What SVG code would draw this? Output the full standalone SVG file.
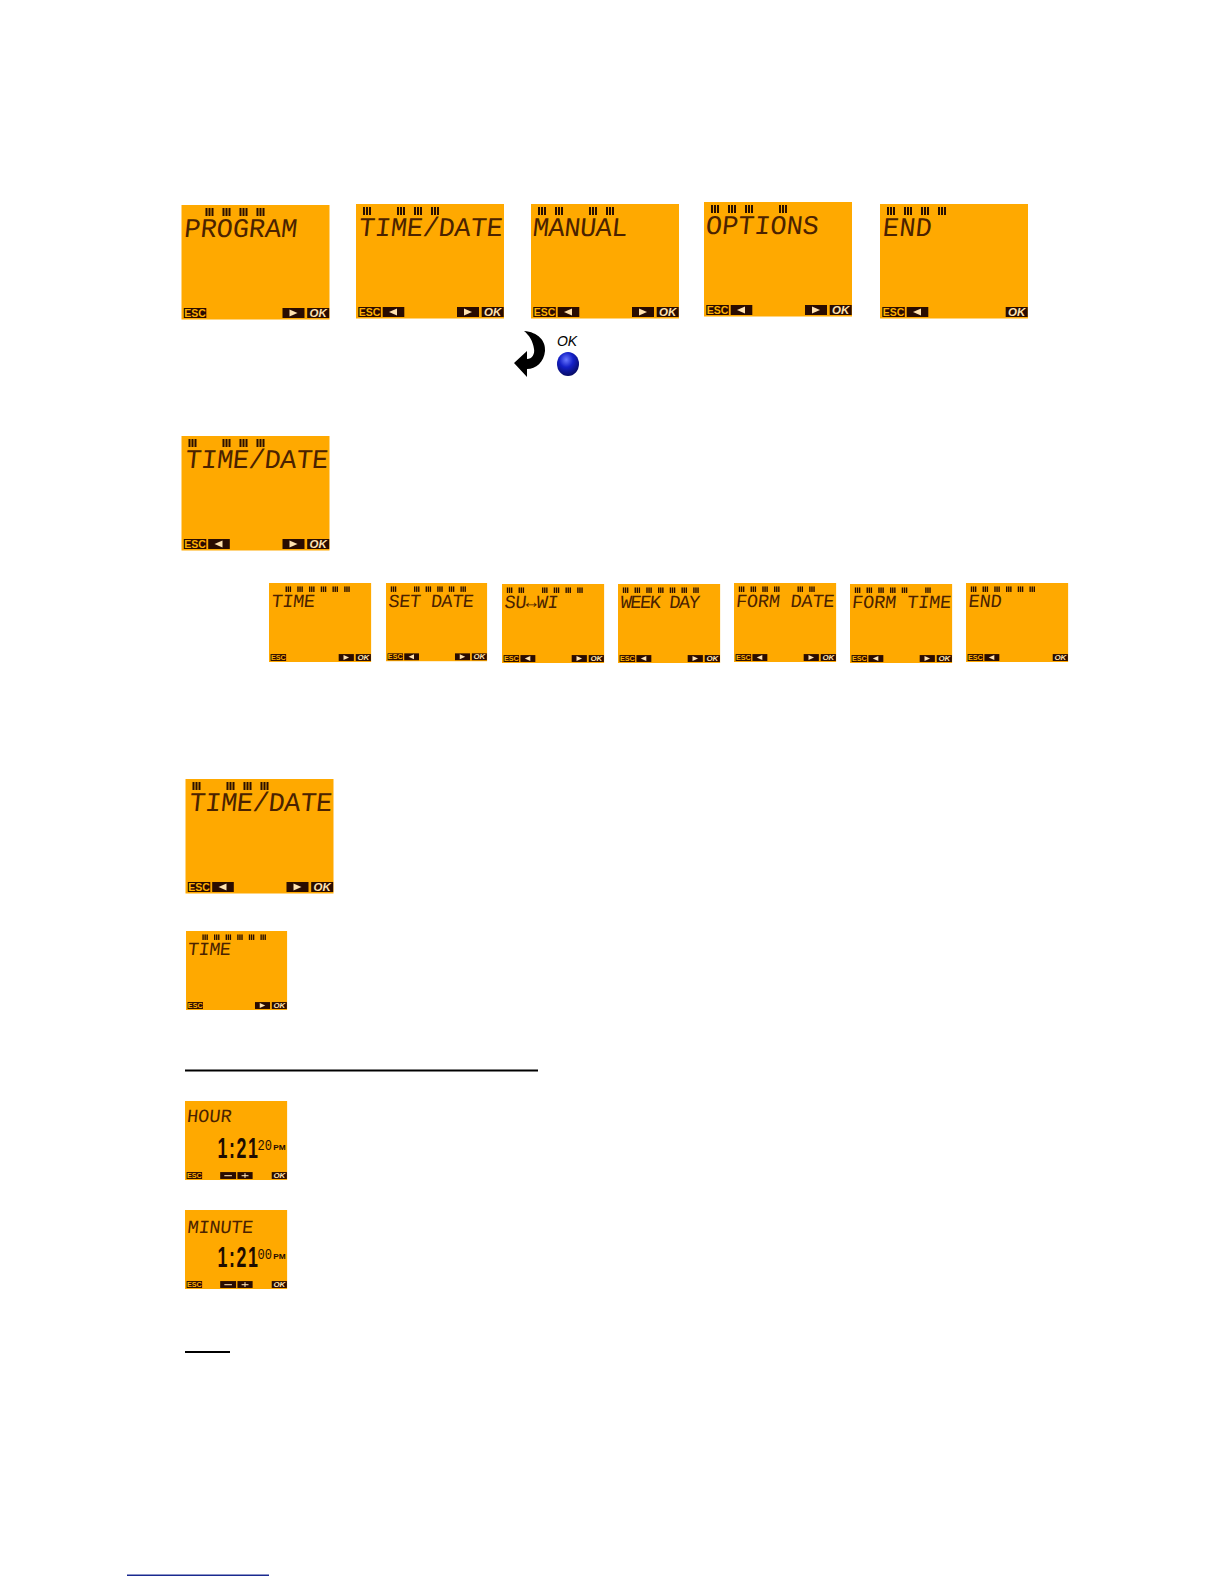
<svg xmlns="http://www.w3.org/2000/svg" width="1224" height="1584" viewBox="0 0 1224 1584">
<style>
.lcd{font-family:"Liberation Mono","DejaVu Sans Mono",monospace;font-weight:400;font-size:27px;fill:#4a2200}
.btn{font-family:"Liberation Sans",Arial,sans-serif;font-weight:700;font-style:italic;font-size:11.5px;text-anchor:middle}
.esc{fill:#ffb000;font-style:normal;font-size:10.5px}.okt{fill:#ffe2b0}
.dig{font-family:"Liberation Sans",Arial,sans-serif;font-weight:700;fill:#1e0c00}
.sec{font-family:"Liberation Mono",monospace;fill:#2a1000}
</style>
<defs>
<rect id="bg" width="148" height="114.5" fill="#ffa900"/>
<g id="b" fill="#2a1000"><rect x="0" width="2" height="8"/><rect x="3" width="2" height="8"/><rect x="6" width="2" height="8"/></g>
<rect id="kesc" x="2.3" y="103" width="22.5" height="10" fill="#2a0c00"/>
<rect id="kok" x="125.7" y="103" width="22" height="10" fill="#2a0c00"/>
<g id="kl"><rect x="26.7" y="103" width="21.6" height="10" fill="#2a0c00"/><polygon points="33,108 41,104.500 41,111.500" fill="#ffe2b0"/></g>
<g id="kr"><rect x="101" y="103" width="22" height="10" fill="#2a0c00"/><polygon points="116,108 108,104.500 108,111.500" fill="#ffe2b0"/></g>
<g id="km"><rect x="51" y="103" width="23" height="10" fill="#2a0c00"/><rect x="57" y="107.500" width="11" height="1.500" fill="#ffe2b0"/></g>
<g id="kp"><rect x="76" y="103" width="22" height="10" fill="#2a0c00"/><rect x="82" y="107.500" width="10" height="1.500" fill="#ffe2b0"/><rect x="86.200" y="104.500" width="1.500" height="7" fill="#ffe2b0"/></g>
<radialGradient id="ball" cx=".42" cy=".32" r=".7"><stop offset="0" stop-color="#6a78ff"/><stop offset=".45" stop-color="#1420c8"/><stop offset="1" stop-color="#060a60"/></radialGradient>
</defs>

<g id="screen-program" transform="translate(181.500,205)"><use href="#bg"/><use href="#b" x="24" y="3"/><use href="#b" x="41" y="3"/><use href="#b" x="58" y="3"/><use href="#b" x="75" y="3"/>
<text class="lcd" transform="translate(2,32) skewX(-6)" textLength="113" lengthAdjust="spacing">PROGRAM</text>
<use href="#kesc"/><use href="#kr"/><use href="#kok"/><text class="btn esc" x="13.500" y="112">ESC</text><text class="btn okt" x="136.700" y="112">OK</text></g>

<g id="screen-time-date" transform="translate(356,204)"><use href="#bg"/><use href="#b" x="7" y="3"/><use href="#b" x="41" y="3"/><use href="#b" x="58" y="3"/><use href="#b" x="75" y="3"/>
<text class="lcd" transform="translate(2,32) skewX(-6)" textLength="144" lengthAdjust="spacing">TIME/DATE</text>
<use href="#kesc"/><use href="#kl"/><use href="#kr"/><use href="#kok"/><text class="btn esc" x="13.500" y="112">ESC</text><text class="btn okt" x="136.700" y="112">OK</text></g>

<g id="screen-manual" transform="translate(531,204)"><use href="#bg"/><use href="#b" x="7" y="3"/><use href="#b" x="24" y="3"/><use href="#b" x="58" y="3"/><use href="#b" x="75" y="3"/>
<text class="lcd" transform="translate(1,32) skewX(-6)" textLength="95" lengthAdjust="spacing">MANUAL</text>
<use href="#kesc"/><use href="#kl"/><use href="#kr"/><use href="#kok"/><text class="btn esc" x="13.500" y="112">ESC</text><text class="btn okt" x="136.700" y="112">OK</text></g>

<g id="screen-options" transform="translate(704,202)"><use href="#bg"/><use href="#b" x="7" y="3"/><use href="#b" x="24" y="3"/><use href="#b" x="41" y="3"/><use href="#b" x="75" y="3"/>
<text class="lcd" transform="translate(1,32) skewX(-6)" textLength="113" lengthAdjust="spacing">OPTIONS</text>
<use href="#kesc"/><use href="#kl"/><use href="#kr"/><use href="#kok"/><text class="btn esc" x="13.500" y="112">ESC</text><text class="btn okt" x="136.700" y="112">OK</text></g>

<g id="screen-end" transform="translate(880,204)"><use href="#bg"/><use href="#b" x="7" y="3"/><use href="#b" x="24" y="3"/><use href="#b" x="41" y="3"/><use href="#b" x="58" y="3"/>
<text class="lcd" transform="translate(2,32) skewX(-6)" textLength="49" lengthAdjust="spacing">END</text>
<use href="#kesc"/><use href="#kl"/><use href="#kok"/><text class="btn esc" x="13.500" y="112">ESC</text><text class="btn okt" x="136.700" y="112">OK</text></g>

<g id="ok-icon">
<path d="M524 331 C538 332 546 341 545 351 C544 362 536 369 527 369 L527 377 L514 363 L527 351 L527 359 C532 359 535 354 534 349 C533 341 529 335 524 331 Z" fill="#000"/>
<text x="567" y="346" font-family="Liberation Sans, Arial, sans-serif" font-style="italic" font-size="14" text-anchor="middle" fill="#000">OK</text>
<ellipse cx="568" cy="364" rx="11" ry="12" fill="url(#ball)"/>
</g>

<g id="screen-time-date-2" transform="translate(181.500,436)"><use href="#bg"/><use href="#b" x="7" y="3"/><use href="#b" x="41" y="3"/><use href="#b" x="58" y="3"/><use href="#b" x="75" y="3"/>
<text class="lcd" transform="translate(3,32) skewX(-6)" textLength="143" lengthAdjust="spacing">TIME/DATE</text>
<use href="#kesc"/><use href="#kl"/><use href="#kr"/><use href="#kok"/><text class="btn esc" x="13.500" y="112">ESC</text><text class="btn okt" x="136.700" y="112">OK</text></g>

<g id="small-time" transform="translate(269,583) scale(.69,.69)"><use href="#bg"/><use href="#b" x="24" y="5"/><use href="#b" x="41" y="5"/><use href="#b" x="58" y="5"/><use href="#b" x="75" y="5"/><use href="#b" x="92" y="5"/><use href="#b" x="109" y="5"/>
<text class="lcd" transform="translate(3,35) skewX(-6)" textLength="63" lengthAdjust="spacing">TIME</text>
<use href="#kesc"/><use href="#kr"/><use href="#kok"/><text class="btn esc" x="13.500" y="112">ESC</text><text class="btn okt" x="136.700" y="112">OK</text></g>

<g id="small-set-date" transform="translate(386,583) scale(.683,.683)"><use href="#bg"/><use href="#b" x="7" y="5"/><use href="#b" x="41" y="5"/><use href="#b" x="58" y="5"/><use href="#b" x="75" y="5"/><use href="#b" x="92" y="5"/><use href="#b" x="109" y="5"/>
<text class="lcd" xml:space="preserve" transform="translate(3,35) skewX(-6)" textLength="125" lengthAdjust="spacing">SET DATE</text>
<use href="#kesc"/><use href="#kl"/><use href="#kr"/><use href="#kok"/><text class="btn esc" x="13.500" y="112">ESC</text><text class="btn okt" x="136.700" y="112">OK</text></g>

<g id="small-su-wi" transform="translate(502,584) scale(.69,.69)"><use href="#bg"/><use href="#b" x="7" y="5"/><use href="#b" x="24" y="5"/><use href="#b" x="58" y="5"/><use href="#b" x="75" y="5"/><use href="#b" x="92" y="5"/><use href="#b" x="109" y="5"/>
<text class="lcd" transform="translate(3,35) skewX(-6)" textLength="78" lengthAdjust="spacing">SU↔WI</text>
<use href="#kesc"/><use href="#kl"/><use href="#kr"/><use href="#kok"/><text class="btn esc" x="13.500" y="112">ESC</text><text class="btn okt" x="136.700" y="112">OK</text></g>

<g id="small-week-day" transform="translate(618,584) scale(.69,.69)"><use href="#bg"/><use href="#b" x="7" y="5"/><use href="#b" x="24" y="5"/><use href="#b" x="41" y="5"/><use href="#b" x="58" y="5"/><use href="#b" x="75" y="5"/><use href="#b" x="92" y="5"/><use href="#b" x="109" y="5"/>
<text class="lcd" xml:space="preserve" transform="translate(3,35) skewX(-6)" textLength="115" lengthAdjust="spacing">WEEK DAY</text>
<use href="#kesc"/><use href="#kl"/><use href="#kr"/><use href="#kok"/><text class="btn esc" x="13.500" y="112">ESC</text><text class="btn okt" x="136.700" y="112">OK</text></g>

<g id="small-form-date" transform="translate(734,583) scale(.69,.69)"><use href="#bg"/><use href="#b" x="7" y="5"/><use href="#b" x="24" y="5"/><use href="#b" x="41" y="5"/><use href="#b" x="58" y="5"/><use href="#b" x="92" y="5"/><use href="#b" x="109" y="5"/>
<text class="lcd" xml:space="preserve" transform="translate(2,35) skewX(-6)" textLength="143" lengthAdjust="spacing">FORM DATE</text>
<use href="#kesc"/><use href="#kl"/><use href="#kr"/><use href="#kok"/><text class="btn esc" x="13.500" y="112">ESC</text><text class="btn okt" x="136.700" y="112">OK</text></g>

<g id="small-form-time" transform="translate(850,584) scale(.69,.69)"><use href="#bg"/><use href="#b" x="7" y="5"/><use href="#b" x="24" y="5"/><use href="#b" x="41" y="5"/><use href="#b" x="58" y="5"/><use href="#b" x="75" y="5"/><use href="#b" x="109" y="5"/>
<text class="lcd" xml:space="preserve" transform="translate(2,35) skewX(-6)" textLength="144" lengthAdjust="spacing">FORM TIME</text>
<use href="#kesc"/><use href="#kl"/><use href="#kr"/><use href="#kok"/><text class="btn esc" x="13.500" y="112">ESC</text><text class="btn okt" x="136.700" y="112">OK</text></g>

<g id="small-end" transform="translate(966,583) scale(.69,.69)"><use href="#bg"/><use href="#b" x="7" y="5"/><use href="#b" x="24" y="5"/><use href="#b" x="41" y="5"/><use href="#b" x="58" y="5"/><use href="#b" x="75" y="5"/><use href="#b" x="92" y="5"/>
<text class="lcd" transform="translate(3,35) skewX(-6)" textLength="48" lengthAdjust="spacing">END</text>
<use href="#kesc"/><use href="#kl"/><use href="#kok"/><text class="btn esc" x="13.500" y="112">ESC</text><text class="btn okt" x="136.700" y="112">OK</text></g>

<g id="screen-time-date-3" transform="translate(185.500,779)"><use href="#bg"/><use href="#b" x="7" y="3"/><use href="#b" x="41" y="3"/><use href="#b" x="58" y="3"/><use href="#b" x="75" y="3"/>
<text class="lcd" transform="translate(3,32) skewX(-6)" textLength="143" lengthAdjust="spacing">TIME/DATE</text>
<use href="#kesc"/><use href="#kl"/><use href="#kr"/><use href="#kok"/><text class="btn esc" x="13.500" y="112">ESC</text><text class="btn okt" x="136.700" y="112">OK</text></g>

<g id="small-time-2" transform="translate(186,931) scale(.683,.69)"><use href="#bg"/><use href="#b" x="24" y="5"/><use href="#b" x="41" y="5"/><use href="#b" x="58" y="5"/><use href="#b" x="75" y="5"/><use href="#b" x="92" y="5"/><use href="#b" x="109" y="5"/>
<text class="lcd" transform="translate(2,35) skewX(-6)" textLength="63" lengthAdjust="spacing">TIME</text>
<use href="#kesc"/><use href="#kr"/><use href="#kok"/><text class="btn esc" x="13.500" y="112">ESC</text><text class="btn okt" x="136.700" y="112">OK</text></g>

<rect id="rule-1" x="185" y="1069.500" width="353" height="2" fill="#000"/>

<g id="small-hour" transform="translate(185,1101) scale(.69,.69)"><use href="#bg"/>
<text class="lcd" transform="translate(2,30) skewX(-6)" textLength="65" lengthAdjust="spacing">HOUR</text>
<text class="dig" transform="translate(47,83) scale(.6,1)" font-size="43" textLength="98" lengthAdjust="spacing">1:21</text>
<text class="sec" x="105" y="71" font-size="21" textLength="21" lengthAdjust="spacingAndGlyphs">20</text>
<text class="dig" x="128" y="71" font-size="10" textLength="18" lengthAdjust="spacingAndGlyphs">PM</text>
<use href="#kesc"/><use href="#km"/><use href="#kp"/><use href="#kok"/><text class="btn esc" x="13.500" y="112">ESC</text><text class="btn okt" x="136.700" y="112">OK</text></g>

<g id="small-minute" transform="translate(185,1210) scale(.69,.69)"><use href="#bg"/>
<text class="lcd" transform="translate(3,33) skewX(-6)" textLength="95" lengthAdjust="spacing">MINUTE</text>
<text class="dig" transform="translate(47,83) scale(.6,1)" font-size="43" textLength="98" lengthAdjust="spacing">1:21</text>
<text class="sec" x="105" y="71" font-size="21" textLength="21" lengthAdjust="spacingAndGlyphs">00</text>
<text class="dig" x="128" y="71" font-size="10" textLength="18" lengthAdjust="spacingAndGlyphs">PM</text>
<use href="#kesc"/><use href="#km"/><use href="#kp"/><use href="#kok"/><text class="btn esc" x="13.500" y="112">ESC</text><text class="btn okt" x="136.700" y="112">OK</text></g>

<rect id="rule-2" x="185" y="1351" width="45" height="2" fill="#000"/>
<rect id="rule-footer" x="127" y="1574.500" width="142" height="1.500" fill="#1a2a90"/>
</svg>
